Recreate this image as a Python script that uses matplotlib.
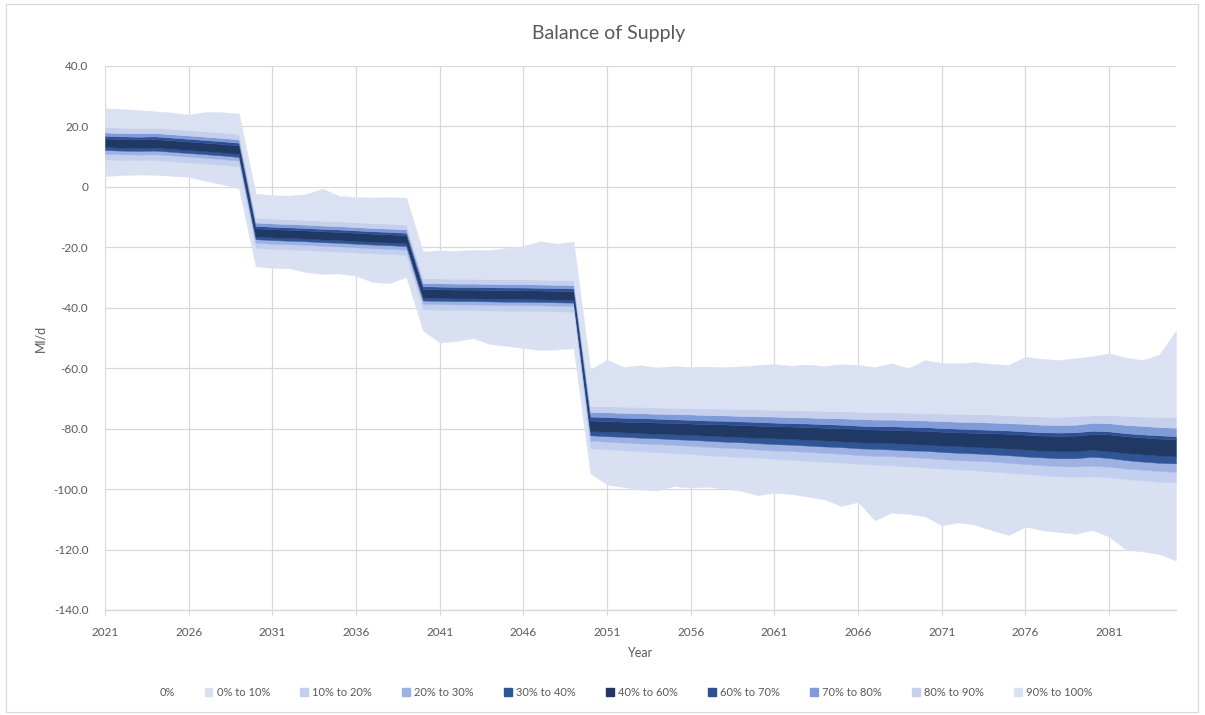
import matplotlib
matplotlib.use("Agg")
import matplotlib.pyplot as plt
from matplotlib.patches import Patch, Rectangle

plt.rcParams["font.family"] = ["Lato", "DejaVu Sans"]

years = list(range(2021, 2086))

# Percentile levels of the balance of supply (Ml/d), one value per year
p0 = [3.6, 3.9, 4.1, 4.0, 3.7, 3.3, 2.0, 0.9, -0.4,
      -26.3, -26.8, -26.9, -28.2, -28.8, -28.6, -29.4, -31.5, -31.8, -29.8,
      -47.5, -51.5, -51.0, -50.0, -52.0, -52.6, -53.3, -54.0, -53.8, -53.4,
      -94.7, -98.5, -99.3, -100.2, -100.4, -99.0, -99.5, -99.2, -99.8, -100.5,
      -102.0, -101.2, -101.6, -102.5, -103.4, -105.6, -104.2, -110.3, -107.8, -108.2,
      -109.0, -112.0, -111.0, -111.8, -113.6, -115.2, -112.4, -113.6, -114.2, -114.8,
      -113.5, -115.7, -120.0, -120.6, -121.5, -123.6]
p10 = [9.1, 8.9, 8.8, 8.9, 8.5, 8.1, 7.7, 7.3, 6.8,
       -20.2, -20.5, -20.7, -20.9, -21.2, -21.4, -21.7, -22.0, -22.2, -22.5,
       -40.5, -40.6, -40.8, -40.8, -40.9, -41.0, -41.0, -41.1, -41.2, -41.3,
       -86.5, -86.8, -87.2, -87.5, -87.8, -88.1, -88.4, -88.8, -89.1, -89.4,
       -89.6, -90.0, -90.3, -90.7, -91.0, -91.2, -91.6, -91.9, -92.1, -92.5,
       -92.8, -93.2, -93.5, -93.8, -94.2, -94.6, -95.0, -95.4, -95.8, -95.9,
       -95.8, -96.0, -96.7, -97.1, -97.6, -97.8]
p20 = [11.0, 10.8, 10.7, 10.8, 10.4, 10.0, 9.6, 9.2, 8.7,
       -18.5, -18.8, -19.0, -19.2, -19.5, -19.7, -20.0, -20.3, -20.5, -20.8,
       -38.7, -38.8, -38.9, -38.9, -39.0, -39.1, -39.1, -39.2, -39.3, -39.4,
       -84.0, -84.3, -84.6, -84.9, -85.1, -85.4, -85.7, -86.0, -86.3, -86.5,
       -86.9, -87.2, -87.4, -87.7, -88.0, -88.3, -88.7, -89.0, -89.1, -89.4,
       -89.7, -90.1, -90.4, -90.6, -90.9, -91.3, -91.7, -92.1, -92.4, -92.5,
       -92.3, -92.6, -93.2, -93.6, -94.0, -94.3]
p30 = [12.2, 12.0, 11.9, 12.0, 11.6, 11.2, 10.8, 10.4, 9.9,
       -17.3, -17.6, -17.8, -18.0, -18.3, -18.5, -18.8, -19.1, -19.3, -19.6,
       -37.6, -37.7, -37.8, -37.8, -37.9, -38.0, -38.0, -38.1, -38.2, -38.3,
       -82.2, -82.5, -82.7, -83.0, -83.2, -83.5, -83.7, -84.0, -84.3, -84.5,
       -84.8, -85.1, -85.3, -85.6, -85.9, -86.1, -86.5, -86.7, -86.9, -87.2,
       -87.3, -87.7, -88.0, -88.2, -88.5, -88.8, -89.2, -89.5, -89.8, -89.8,
       -89.3, -89.7, -90.4, -90.9, -91.3, -91.5]
p40 = [13.2, 13.0, 12.9, 13.0, 12.6, 12.2, 11.8, 11.4, 10.9,
       -16.4, -16.7, -16.9, -17.1, -17.4, -17.6, -17.9, -18.2, -18.4, -18.7,
       -36.7, -36.8, -36.9, -36.9, -37.0, -37.1, -37.1, -37.2, -37.3, -37.4,
       -80.8, -81.0, -81.2, -81.5, -81.7, -81.9, -82.1, -82.3, -82.6, -82.8,
       -83.0, -83.2, -83.4, -83.7, -83.9, -84.2, -84.5, -84.7, -84.8, -85.1,
       -85.3, -85.6, -85.8, -86.1, -86.3, -86.6, -86.9, -87.3, -87.5, -87.5,
       -87.0, -87.5, -88.1, -88.5, -88.9, -89.2]
p60 = [16.0, 15.8, 15.7, 15.8, 15.4, 15.0, 14.6, 14.2, 13.7,
       -13.7, -14.0, -14.2, -14.4, -14.7, -14.9, -15.2, -15.5, -15.7, -16.0,
       -33.8, -33.9, -34.0, -34.0, -34.1, -34.2, -34.2, -34.3, -34.4, -34.5,
       -77.3, -77.5, -77.7, -77.8, -78.0, -78.1, -78.3, -78.5, -78.6, -78.8,
       -79.0, -79.2, -79.3, -79.5, -79.7, -79.8, -80.1, -80.3, -80.4, -80.6,
       -80.7, -81.0, -81.2, -81.4, -81.5, -81.7, -82.0, -82.3, -82.4, -82.3,
       -81.8, -81.9, -82.5, -82.9, -83.3, -83.5]
p70 = [16.9, 16.7, 16.6, 16.7, 16.3, 15.9, 15.5, 15.1, 14.6,
       -12.9, -13.2, -13.4, -13.6, -13.9, -14.1, -14.4, -14.7, -14.9, -15.2,
       -32.9, -33.0, -33.1, -33.1, -33.2, -33.3, -33.3, -33.4, -33.5, -33.6,
       -76.0, -76.2, -76.4, -76.5, -76.7, -76.9, -77.1, -77.3, -77.4, -77.6,
       -77.8, -78.0, -78.2, -78.3, -78.5, -78.7, -79.0, -79.2, -79.2, -79.4,
       -79.5, -79.8, -80.0, -80.2, -80.4, -80.6, -80.9, -81.2, -81.3, -81.2,
       -80.7, -80.9, -81.5, -81.9, -82.2, -82.5]
p80 = [18.0, 17.8, 17.7, 17.8, 17.4, 17.0, 16.6, 16.2, 15.7,
       -11.8, -12.1, -12.3, -12.5, -12.8, -13.0, -13.3, -13.6, -13.8, -14.1,
       -31.8, -31.9, -32.0, -32.0, -32.1, -32.2, -32.2, -32.3, -32.4, -32.5,
       -74.5, -74.6, -74.8, -74.9, -75.1, -75.2, -75.3, -75.5, -75.6, -75.8,
       -75.9, -76.0, -76.2, -76.3, -76.5, -76.6, -76.8, -77.0, -77.0, -77.2,
       -77.3, -77.5, -77.7, -77.8, -78.0, -78.2, -78.4, -78.7, -78.8, -78.7,
       -78.1, -78.2, -78.8, -79.1, -79.5, -79.7]
p90 = [19.8, 19.6, 19.5, 19.6, 19.2, 18.8, 18.4, 18.0, 17.5,
       -10.2, -10.5, -10.7, -10.9, -11.2, -11.4, -11.7, -12.0, -12.2, -12.5,
       -30.2, -30.3, -30.4, -30.4, -30.5, -30.6, -30.6, -30.7, -30.8, -30.9,
       -72.5, -72.6, -72.7, -72.8, -73.0, -73.1, -73.2, -73.3, -73.4, -73.5,
       -73.6, -73.8, -73.9, -74.0, -74.1, -74.2, -74.4, -74.5, -74.6, -74.7,
       -74.8, -75.0, -75.1, -75.2, -75.3, -75.6, -75.8, -76.0, -76.1, -75.8,
       -75.6, -75.5, -75.8, -76.0, -76.1, -76.2]
p100 = [26.0, 25.8, 25.4, 25.0, 24.6, 23.9, 24.8, 24.7, 24.3,
        -2.2, -2.8, -2.9, -2.4, -0.6, -3.0, -3.4, -3.5, -3.4, -3.6,
        -21.4, -21.0, -21.2, -20.8, -20.9, -20.2, -19.6, -18.0, -18.8, -18.1,
        -60.5, -57.2, -59.6, -59.0, -59.8, -59.3, -59.6, -59.5, -59.7, -59.4,
        -59.0, -58.6, -59.2, -58.8, -59.3, -58.7, -58.9, -59.6, -58.4, -60.0,
        -57.3, -58.3, -58.4, -58.0, -58.6, -58.9, -56.2, -56.9, -57.3, -56.7,
        -56.0, -55.1, -56.5, -57.3, -55.5, -47.5]

band_labels = ["0% to 10%", "10% to 20%", "20% to 30%", "30% to 40%", "40% to 60%",
               "60% to 70%", "70% to 80%", "80% to 90%", "90% to 100%"]
band_colors = ["#d9e0f2", "#c3cfee", "#9db2e3", "#2f5597", "#1f3864",
               "#2e4f94", "#7f9bd8", "#c6d0ec", "#dae1f3"]

x_ticks = list(range(2021, 2085, 5))
y_ticks = list(range(-140, 41, 20))
y_tick_labels = ["0" if v == 0 else f"{v:.1f}" for v in y_ticks]

text_color = "#595959"
grid_color = "#d9d9d9"

fig = plt.figure(figsize=(12.05, 7.15), dpi=100)
fig.patch.set_facecolor("white")
fig.add_artist(Rectangle((6 / 1205, 3 / 715), 1192 / 1205, 708 / 715,
                         transform=fig.transFigure, fill=False,
                         edgecolor=grid_color, linewidth=0.8))

ax = fig.add_axes([105 / 1205, 1 - 610 / 715, 1071 / 1205, 544 / 715])

levels = [p0, p10, p20, p30, p40, p60, p70, p80, p90, p100]
for lo, hi, col in zip(levels[:-1], levels[1:], band_colors):
    ax.fill_between(years, lo, hi, facecolor=col, edgecolor=col,
                    linewidth=0.3, zorder=2)

ax.set_xlim(2021, 2085)
ax.set_ylim(-140, 40)
ax.set_xticks(x_ticks)
ax.set_xticklabels([str(y) for y in x_ticks])
ax.set_yticks(y_ticks)
ax.set_yticklabels(y_tick_labels)
ax.grid(True, color=grid_color, linewidth=0.9, zorder=0)
ax.set_axisbelow(True)

for side in ["top", "right", "left"]:
    ax.spines[side].set_visible(False)
ax.spines["bottom"].set_color(grid_color)
ax.spines["bottom"].set_linewidth(1.0)
ax.tick_params(axis="y", length=0, pad=12, labelsize=8.5, labelcolor=text_color)
ax.tick_params(axis="x", length=4, color=grid_color, pad=8, labelsize=8.5,
               labelcolor=text_color)

fig.text(609 / 1205, 1 - 33 / 715, "Balance of Supply", ha="center", va="center",
         fontsize=14, color=text_color)
fig.text(40 / 1205, 1 - 338 / 715, "Ml/d", ha="center", va="center",
         rotation=90, fontsize=9, color=text_color)
fig.text(640 / 1205, 1 - 653 / 715, "Year", ha="center", va="center",
         fontsize=9, color=text_color)

handles = [Patch(facecolor="none", edgecolor="none")]
handles += [Patch(facecolor=c, edgecolor=c) for c in band_colors]
labels = ["0%"] + band_labels
fig.legend(handles, labels, loc="center", bbox_to_anchor=(620 / 1205, 1 - 692 / 715),
           ncol=10, frameon=False, fontsize=8, labelcolor=text_color,
           handlelength=0.7, handleheight=0.7, handletextpad=0.4,
           columnspacing=2.7)

fig.savefig("out.png", dpi=100, facecolor="white")
